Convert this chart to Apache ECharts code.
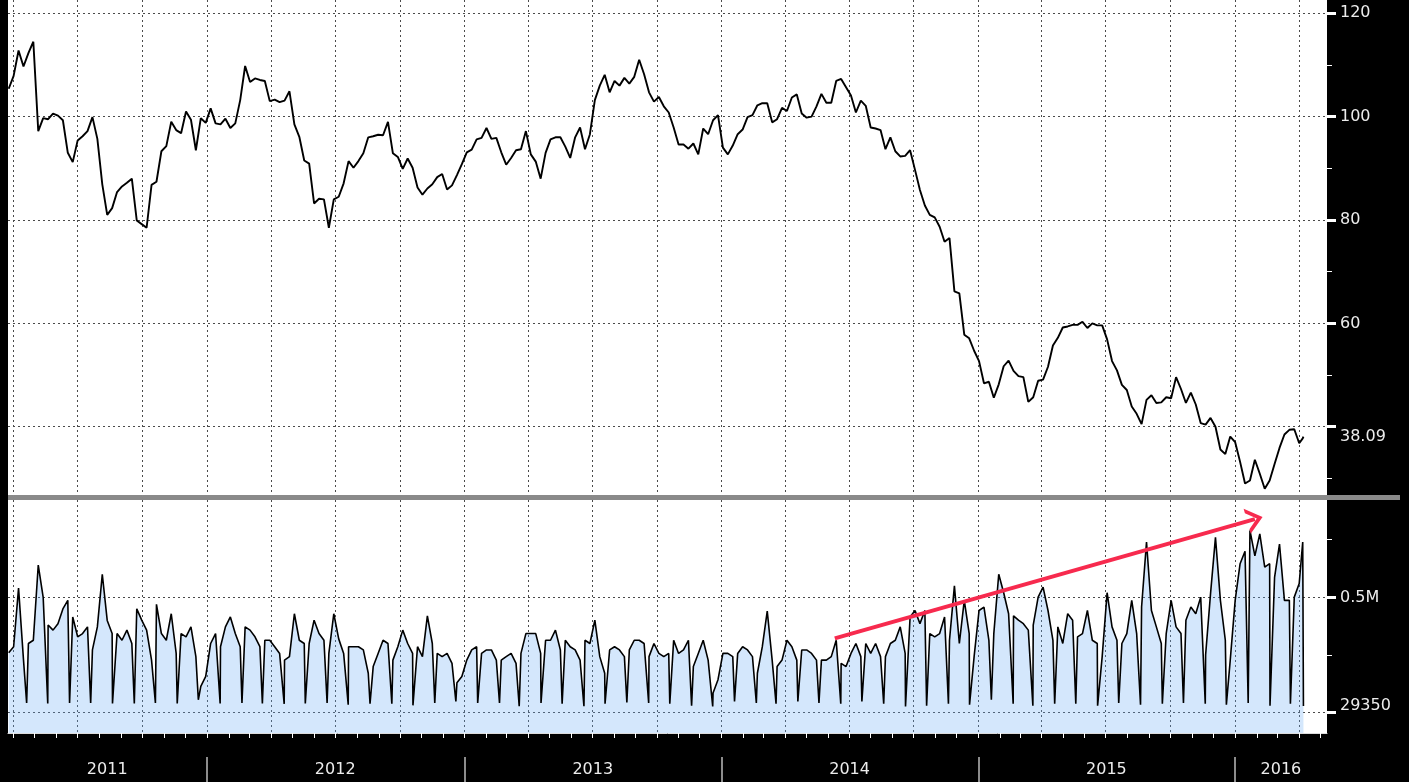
<!DOCTYPE html>
<html>
<head>
<meta charset="utf-8">
<title>WTI price and volume</title>
<script src="https://cdn.jsdelivr.net/npm/echarts@6.0.0/dist/echarts.min.js"></script>
<style>
  html, body { margin: 0; padding: 0; background: #000; }
  #chart { width: 1409px; height: 782px; }
</style>
</head>
<body>
<div id="chart"></div>
<script>
// weekly closes, one per Friday starting 2011-03-25
const priceWeekly = [
  // 2011
  105.4, 107.9, 112.8, 109.7, 112.3, 114.5, 97.2, 99.7, 99.5, 100.6,
  100.2, 99.3, 93.0, 91.2, 95.4, 96.2, 97.2, 99.9, 95.7, 86.9,
  81.0, 82.3, 85.4, 86.5, 87.2, 88.0, 79.9, 79.2, 78.5, 86.8,
  87.4, 93.3, 94.3, 99.0, 97.4, 96.8, 101.0, 99.4, 93.5, 99.7, 98.8,
  // 2012
  101.6, 98.7, 98.5, 99.6, 97.8, 98.7, 103.2, 109.8, 106.7, 107.4,
  107.1, 106.9, 103.0, 103.3, 102.8, 103.1, 104.9, 98.5, 96.1, 91.5,
  90.9, 83.2, 84.1, 84.0, 78.5, 84.0, 84.5, 87.1, 91.4, 90.1,
  91.4, 92.9, 96.0, 96.2, 96.5, 96.4, 99.0, 92.9, 92.2, 89.9,
  91.9, 90.1, 86.3, 84.9, 86.1, 86.9, 88.3, 88.9, 85.9, 86.7, 88.7, 90.8,
  // 2013
  93.1, 93.6, 95.6, 95.9, 97.8, 95.7, 95.9, 93.1, 90.7, 92.0,
  93.5, 93.7, 97.2, 92.7, 91.3, 88.0, 93.0, 95.6, 96.0, 96.0,
  94.2, 92.0, 96.0, 97.9, 93.7, 96.6, 103.2, 106.0, 108.1, 104.7,
  106.9, 106.0, 107.5, 106.4, 107.7, 111.0, 108.2, 104.7, 102.9, 103.8,
  102.0, 100.8, 97.9, 94.6, 94.6, 93.8, 94.8, 92.7, 97.7, 96.6, 99.3, 100.3,
  // 2014
  94.0, 92.7, 94.4, 96.6, 97.5, 99.9, 100.3, 102.2, 102.6, 102.6,
  98.9, 99.5, 101.7, 101.1, 103.7, 104.3, 100.6, 99.8, 100.0, 102.0,
  104.4, 102.7, 102.7, 106.9, 107.3, 105.7, 104.1, 100.8, 103.1, 102.1,
  97.9, 97.7, 97.4, 93.7, 96.0, 93.3, 92.3, 92.4, 93.5, 89.7,
  85.8, 82.8, 81.0, 80.5, 78.7, 75.8, 76.5, 66.2, 65.8, 57.8, 57.1, 54.7,
  // 2015
  52.7, 48.4, 48.7, 45.6, 48.2, 51.7, 52.8, 50.8, 49.8, 49.6,
  44.8, 45.7, 48.9, 49.1, 51.6, 55.7, 57.2, 59.2, 59.4, 59.7,
  59.7, 60.3, 59.1, 60.0, 59.6, 59.6, 56.9, 52.7, 50.9, 48.1,
  47.1, 43.9, 42.5, 40.5, 45.2, 46.1, 44.6, 44.7, 45.7, 45.5,
  49.6, 47.3, 44.6, 46.6, 44.3, 40.7, 40.4, 41.7, 40.0, 35.6, 34.7, 38.1,
  // 2016
  37.0, 33.2, 29.0, 29.6, 33.6, 30.9, 28.0, 29.6, 32.8, 35.9,
  38.5, 39.4, 39.5, 36.8
];
// last two sessions: 2016-04-06, 2016-04-07
const priceTail = [37.75, 38.09];

// weekly volume in thousands of contracts, same Fridays
const volWeekly = [
  // 2011
  260, 286, 540, 230, 300, 314, 640, 500, 380, 358,
  386, 450, 487, 415, 329, 343, 372, 272, 372, 600,
  400, 343, 343, 314, 358, 300, 450, 401, 358, 228,
  470, 343, 314, 429, 257, 343, 329, 372, 243, 114, 157,
  // 2012
  300, 343, 286, 372, 415, 343, 286, 372, 358, 329,
  286, 314, 314, 286, 257, 228, 243, 429, 314, 300,
  300, 401, 343, 314, 257, 429, 320, 257, 286, 286,
  286, 272, 171, 200, 257, 314, 300, 228, 286, 358,
  300, 257, 286, 243, 420, 300, 257, 243, 257, 214, 130, 157,
  // 2013
  228, 272, 286, 257, 272, 272, 228, 228, 243, 257,
  214, 257, 343, 343, 343, 257, 314, 314, 358, 272,
  314, 286, 272, 228, 314, 300, 401, 243, 171, 272,
  286, 272, 243, 272, 314, 314, 300, 243, 300, 257,
  243, 257, 314, 257, 272, 314, 200, 257, 314, 228, 85, 143,
  // 2014
  257, 257, 243, 257, 286, 272, 243, 171, 286, 440,
  228, 200, 228, 314, 286, 228, 272, 272, 257, 228,
  228, 228, 243, 314, 214, 200, 257, 300, 243, 300,
  257, 300, 243, 243, 300, 314, 372, 257, 415, 443,
  386, 443, 343, 329, 343, 415, 314, 550, 300, 487, 343, 243,
  // 2015
  443, 458, 314, 343, 600, 520, 429, 420, 401, 386,
  358, 380, 501, 544, 443, 314, 372, 300, 429, 401,
  329, 343, 443, 314, 300, 243, 520, 372, 314, 300,
  343, 487, 343, 458, 740, 443, 372, 300, 343, 487,
  372, 343, 401, 458, 429, 501, 250, 516, 760, 487, 314, 228,
  // 2016
  487, 646, 700, 790, 680, 775, 631, 646, 587, 731,
  487, 487, 501, 560
];
const volTail = [740, 29.35];

// contract-expiry troughs, one per month from 2011-04 to 2016-03
const volDips = [
  42, 40, 42, 42, 40, 40, 42, 40, 56,
  40, 42, 40, 38, 40, 42, 35, 39, 39, 32, 42, 49,
  42, 42, 28, 42, 39, 28, 39, 44, 42, 39, 30, 27,
  49, 42, 39, 49, 42, 39, 49, 39, 27, 30, 39, 35,
  56, 39, 30, 39, 39, 30, 42, 35, 39, 42, 39, 35,
  42, 30, 39
];

// red annotation: [date, volume in thousands]
const arrowNote = [['2014-06-11', 322], ['2016-01-29', 839]];

const DAY = 86400000;
const xMin = Date.UTC(2011, 2, 24);
const xMax = Date.UTC(2016, 4, 10, 12);
const firstFriday = Date.UTC(2011, 2, 25);
const weekDates = priceWeekly.map((_, i) => firstFriday + i * 7 * DAY);
const tailDates = [Date.UTC(2016, 3, 6), Date.UTC(2016, 3, 7)];

const priceData = weekDates.map((t, i) => [t, priceWeekly[i]])
  .concat(tailDates.map((t, i) => [t, priceTail[i]]));

let volData = weekDates.map((t, i) => [t, volWeekly[i]])
  .concat(tailDates.map((t, i) => [t, volTail[i]]))
  .concat(volDips.map((v, i) => [Date.UTC(2011, 3 + i, 19, 12), v]));
volData.sort((a, b) => a[0] - b[0]);

const monthStarts = [], quarterStarts = [], yearStarts = [];
for (let y = 2011; y <= 2016; y++) {
  for (let m = 0; m < 12; m++) {
    const t = Date.UTC(y, m, 1);
    if (t <= xMin || t >= xMax) continue;
    monthStarts.push(t);
    if (m % 3 === 0) quarterStarts.push(t);
    if (m === 0) yearStarts.push(t);
  }
}
// label anchors: middle of each visible year span
const yearMids = [Date.UTC(2011, 7, 12), Date.UTC(2012, 6, 1), Date.UTC(2013, 6, 2),
  Date.UTC(2014, 6, 2), Date.UTC(2015, 6, 2), Date.UTC(2016, 2, 6)];

const chart = echarts.init(document.getElementById('chart'));

const dotted = { show: true, lineStyle: { color: '#4a4a4a', type: [2, 3], width: 1 } };
const txt = { color: '#ececec', fontSize: 16, fontFamily: 'DejaVu Sans' };
const pMin = 26.4, pMax = 122.57;
const vMin = -88, vMax = 922;

// dates are plotted as plain millisecond values so custom tick positions can be used
const dateAxis = { type: 'value', min: xMin, max: xMax, scale: true };

const option = {
  backgroundColor: '#000',
  animation: false,
  grid: [
    { left: 8, right: 82, top: 0, height: 497, show: true, backgroundColor: '#fff', borderWidth: 0 },
    { left: 8, right: 82, top: 500, height: 233, show: true, backgroundColor: '#fff', borderWidth: 0 },
    { left: 8, right: 82, top: 757, height: 25, show: false }
  ],
  xAxis: [
    { gridIndex: 0, ...dateAxis,
      axisLine: { show: false }, axisLabel: { show: false },
      axisTick: { show: false, customValues: quarterStarts }, splitLine: dotted },
    { gridIndex: 1, ...dateAxis, position: 'top',
      axisLine: { show: false }, axisLabel: { show: false },
      axisTick: { show: false, customValues: quarterStarts }, splitLine: dotted },
    { gridIndex: 1, ...dateAxis, position: 'bottom',
      axisLine: { show: true, onZero: false, lineStyle: { color: '#dcdcdc', width: 1 } },
      axisTick: { show: true, customValues: monthStarts, length: 5, lineStyle: { color: '#fff' } },
      axisLabel: { show: true, customValues: yearMids, margin: 29, ...txt,
        formatter: v => String(new Date(v).getUTCFullYear()) },
      splitLine: { show: false } },
    { gridIndex: 2, ...dateAxis,
      axisLine: { show: false }, axisLabel: { show: false },
      axisTick: { show: false, customValues: yearStarts },
      splitLine: { show: true, lineStyle: { color: '#8c8c8c', width: 2 } } }
  ],
  yAxis: [
    { gridIndex: 0, type: 'value', position: 'right', min: pMin, max: pMax,
      axisLine: { show: false },
      axisTick: { show: true, customValues: [40, 60, 80, 100, 120], length: 9, lineStyle: { color: '#fff', width: 3 } },
      axisLabel: { customValues: [38.09, 60, 80, 100, 120], margin: 13, ...txt,
        formatter: v => (v === 38.09 ? '38.09' : String(v)) },
      splitLine: dotted },
    { gridIndex: 0, type: 'value', position: 'right', min: pMin, max: pMax,
      axisLine: { show: false }, axisLabel: { show: false }, splitLine: { show: false },
      axisTick: { show: true, customValues: [30, 50, 70, 90, 110], length: 5, lineStyle: { color: '#fff' } } },
    { gridIndex: 1, type: 'value', position: 'right', min: vMin, max: vMax,
      axisLine: { show: false },
      axisTick: { show: true, customValues: [0, 500], length: 9, lineStyle: { color: '#fff', width: 3 } },
      axisLabel: { customValues: [29.35, 500], margin: 13, ...txt,
        formatter: v => (v === 500 ? '0.5M' : String(Math.round(v * 1000))) },
      splitLine: dotted },
    { gridIndex: 1, type: 'value', position: 'right', min: vMin, max: vMax,
      axisLine: { show: false }, axisLabel: { show: false }, splitLine: { show: false },
      axisTick: { show: true, customValues: [250, 750], length: 5, lineStyle: { color: '#fff' } } },
    { gridIndex: 2, type: 'value', show: false, min: 0, max: 1 }
  ],
  graphic: [
    { type: 'rect', z: 100, shape: { x: 8, y: 495, width: 1392, height: 5 }, style: { fill: '#8a8a8a' } }
  ],
  series: [
    { name: 'Price', type: 'line', xAxisIndex: 0, yAxisIndex: 0, data: priceData,
      symbol: 'none', lineStyle: { color: '#000', width: 1.9 }, silent: true },
    { name: 'Volume', type: 'line', xAxisIndex: 2, yAxisIndex: 2, data: volData,
      symbol: 'none', lineStyle: { color: '#000', width: 1.6 },
      areaStyle: { color: 'rgba(102,170,245,0.4)', origin: 'start' }, silent: true,
      markLine: {
        silent: true,
        symbol: ['none', 'path://M0,12 L7,0 L14,12 L11.5,12 L7,4.5 L2.5,12 Z'],
        symbolSize: [26, 16],
        label: { show: false },
        lineStyle: { color: '#f72a4e', width: 4, type: 'solid' },
        data: [[
          { coord: [new Date(arrowNote[0][0]).getTime(), arrowNote[0][1]] },
          { coord: [new Date(arrowNote[1][0]).getTime(), arrowNote[1][1]] }
        ]]
      } }
  ]
};

chart.setOption(option);
</script>
</body>
</html>
